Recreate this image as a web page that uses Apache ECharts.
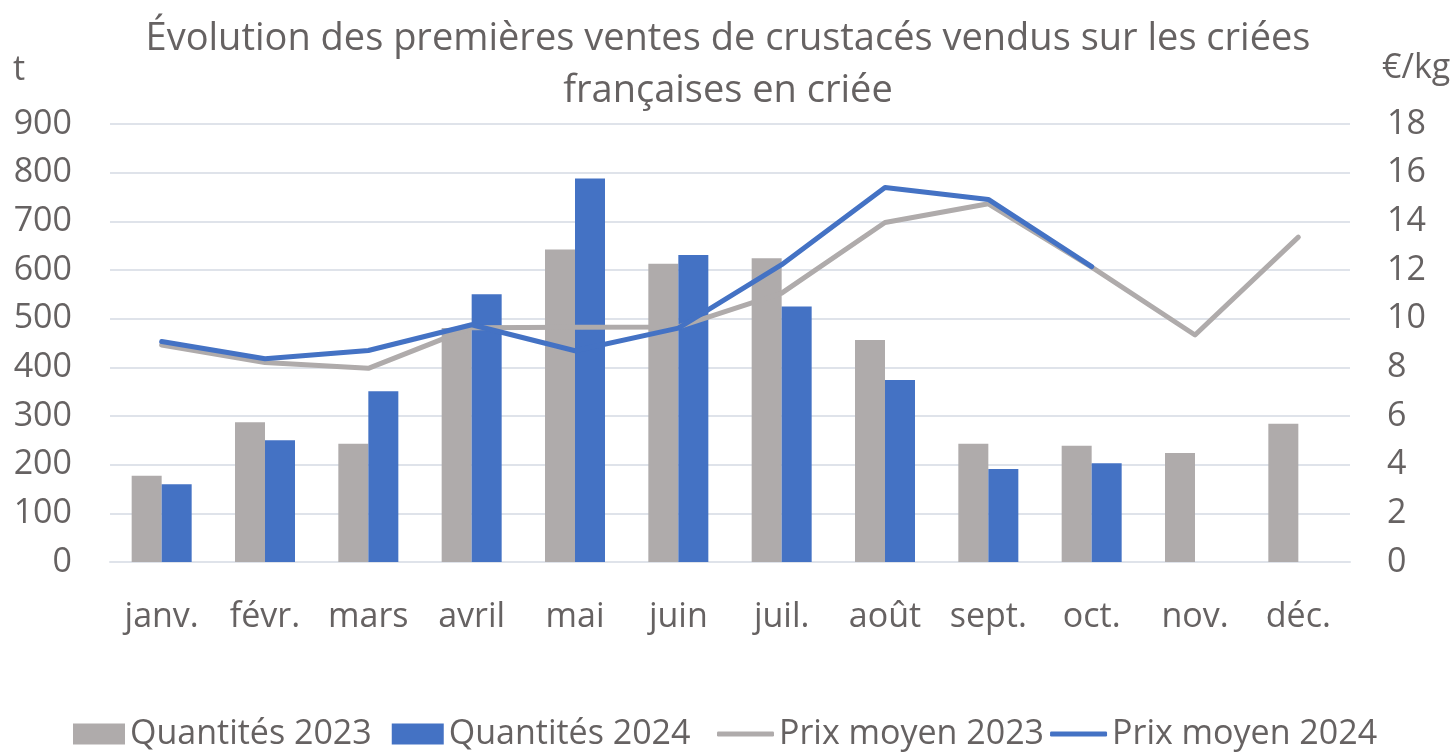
<!DOCTYPE html>
<html>
<head>
<meta charset="utf-8">
<script src="https://cdn.jsdelivr.net/npm/echarts@6/dist/echarts.min.js"></script>
<style>
html,body{margin:0;padding:0;background:#fff;}
#chart{width:1456px;height:752px;}
</style>
</head>
<body>
<div id="chart"></div>
<script>
const months = ['janv.','févr.','mars','avril','mai','juin','juil.','août','sept.','oct.','nov.','déc.'];
const qty2023 = [177, 287, 243, 481, 642, 613, 624, 456, 243, 239, 224, 284];
const qty2024 = [160, 250, 351, 550, 788, 631, 525, 374, 191, 203, null, null];
const price2023 = [8.92, 8.2, 7.96, 9.63, 9.65, 9.66, 11.05, 13.95, 14.72, 12.12, 9.33, 13.35];
const price2024 = [9.06, 8.35, 8.69, 9.75, 8.68, 9.61, 12.22, 15.39, 14.9, 12.14, null, null];
const leftTicks = {min: 0, max: 900, interval: 100};
const rightTicks = {min: 0, max: 18, interval: 2};

const FONT = '"Open Sans"';
const TXT = '#666262';
const GRAY = '#AFABAB';
const BLUE = '#4472C4';

const chart = echarts.init(document.getElementById('chart'), null, {renderer: 'canvas'});
chart.setOption({
  backgroundColor: '#ffffff',
  animation: false,
  textStyle: {fontFamily: FONT},
  title: {
    text: 'Évolution des premières ventes de crustacés vendus sur les criées\nfrançaises en criée',
    left: 'center',
    top: 8,
    textStyle: {fontFamily: FONT, fontSize: 38, fontWeight: 'normal', color: TXT, lineHeight: 52}
  },
  graphic: [
    {type: 'text', left: 13, top: 53, style: {text: 't', font: '34px ' + FONT, fill: TXT}},
    {type: 'text', left: 1382, top: 51, style: {text: '€/kg', font: '34px ' + FONT, fill: TXT}}
  ],
  grid: {left: 110, right: 106, top: 124, bottom: 190, containLabel: false},
  legend: [
    {
      data: ['Quantités 2023', 'Quantités 2024'],
      left: 68, top: 712,
      itemWidth: 52, itemHeight: 21, itemGap: 20, itemTextGap: 5,
      icon: 'rect',
      textStyle: {fontFamily: FONT, fontSize: 34, color: TXT}
    },
    {
      data: ['Prix moyen 2023', 'Prix moyen 2024'],
      left: 712, top: 712,
      itemWidth: 57, itemHeight: 5, itemGap: 6, itemTextGap: 5,
      icon: 'roundRect',
      textStyle: {fontFamily: FONT, fontSize: 34, color: TXT}
    }
  ],
  xAxis: {
    type: 'category',
    data: months,
    axisLine: {show: true, lineStyle: {color: '#dfe3ea', width: 2}},
    axisTick: {show: false},
    axisLabel: {color: TXT, fontSize: 34, fontFamily: FONT, margin: 38, interval: 0}
  },
  yAxis: [
    {
      type: 'value', min: leftTicks.min, max: leftTicks.max, interval: leftTicks.interval,
      axisLine: {show: false}, axisTick: {show: false},
      axisLabel: {color: TXT, fontSize: 34, fontFamily: FONT, margin: 38},
      splitLine: {lineStyle: {color: '#dfe3ea', width: 2}}
    },
    {
      type: 'value', min: rightTicks.min, max: rightTicks.max, interval: rightTicks.interval,
      axisLine: {show: false}, axisTick: {show: false},
      axisLabel: {color: TXT, fontSize: 34, fontFamily: FONT, margin: 37},
      splitLine: {show: false}
    }
  ],
  series: [
    {name: 'Quantités 2023', type: 'bar', data: qty2023, barWidth: 30, barGap: '0%', itemStyle: {color: GRAY}},
    {name: 'Quantités 2024', type: 'bar', data: qty2024, barWidth: 30, barGap: '0%', itemStyle: {color: BLUE}},
    {name: 'Prix moyen 2023', type: 'line', yAxisIndex: 1, data: price2023, symbol: 'none',
     lineStyle: {color: GRAY, width: 5, cap: 'round', join: 'round'}, itemStyle: {color: GRAY}},
    {name: 'Prix moyen 2024', type: 'line', yAxisIndex: 1, data: price2024, symbol: 'none',
     lineStyle: {color: BLUE, width: 5, cap: 'round', join: 'round'}, itemStyle: {color: BLUE}}
  ]
});
</script>
</body>
</html>
